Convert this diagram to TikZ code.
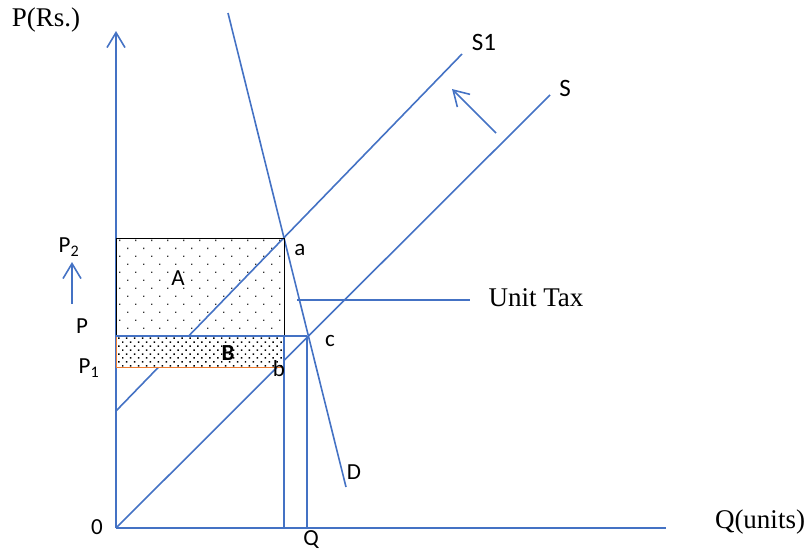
\documentclass[tikz,border=0pt]{standalone}
\usepackage{fontspec}
\setmainfont{Liberation Serif}
\newfontfamily\calib{Carlito}
\usetikzlibrary{arrows.meta,patterns.meta}
\definecolor{wblue}{HTML}{4472C4}
\definecolor{worange}{HTML}{ED7D31}
\tikzset{
  ln/.style={draw=wblue,line width=1.6},
  barb/.style={-{Straight Barb[length=15,width=18,line width=1.6]}},
  serif/.style={font=\fontsize{27}{30}\selectfont,inner sep=0},
  sans/.style={font=\calib\fontsize{23}{26}\selectfont,inner sep=0},
  sansbig/.style={font=\calib\fontsize{25}{28}\selectfont,inner sep=0}
}
\begin{document}
\begin{tikzpicture}[x=1pt,y=-1pt]
\useasboundingbox (0,0) rectangle (809,552);
% coordinates
\coordinate (O) at (116,528);
\coordinate (ytop) at (116,31);
\coordinate (xend) at (666,528);
\coordinate (Dtop) at (228,13);
\coordinate (Dbot) at (346,487);
\coordinate (S1bot) at (116,411);
\coordinate (S1top) at (462,54);
\coordinate (Stop) at (550,95);
\coordinate (a) at (284,238);
\coordinate (c) at (307,336);
\coordinate (Pl) at (116,336);
\coordinate (Ab) at (284,336);
\coordinate (P1l) at (116,367);
\coordinate (Bb) at (284,367);
\coordinate (P2l) at (116,238);
\coordinate (bq) at (284,528);
\coordinate (cq) at (307,528);
\coordinate (ut1) at (297,300);
\coordinate (ut2) at (470,300);
\coordinate (sh1) at (496,133);
\coordinate (sh2) at (452,89);
\coordinate (p2a) at (72,304);
\coordinate (p2b) at (72,262);
% area A
\path[pattern={Dots[distance=11.3pt,radius=0.9pt,angle=45]},pattern color=black!80] (P2l) rectangle (Ab);
% lines
\draw[ln] (O) -- (xend);
\draw[ln,barb] (O) -- (ytop);
\draw[ln] (Dtop) -- (Dbot);
\draw[ln] (S1bot) -- (S1top);
\draw[ln] (O) -- (Stop);
\draw[ln] (ut1) -- (ut2);
\draw[ln,barb] (sh1) -- (sh2);
\draw[ln,barb] (p2a) -- (p2b);
% area B (opaque)
\fill[white] (Pl) rectangle (Bb);
\path[pattern={Dots[distance=5.6pt,radius=1.05pt,angle=45]},pattern color=black] (Pl) rectangle (Bb);
\draw[worange,line width=0.8] (Pl) -- (P1l) -- (Bb);
% A border
\draw[black,line width=0.8] (Pl) -- (P2l) -- (a) -- (Ab);
% price/quantity lines
\draw[ln] (Pl) -- (c);
\draw[ln] (Ab) -- (bq);
\draw[ln] (c) -- (cq);
% labels
\node[serif] (ylab) at (46,20) {P(Rs.)};
\node[serif] (xlab) at (760,522) {Q(units)};
\node[serif] (utlab) at (536,298) {Unit Tax};
\node[sans] (zero) at (97,527) {0};
\node[sansbig] (s1lab) at (484,42) {S1};
\node[sansbig] (slab) at (565,88) {S};
\node[sans] (dlab) at (354,472) {D};
\node[sans] (qlab) at (311,540) {Q};
\node[sans] (alab) at (300,250) {a};
\node[sans] (blab) at (279,369) {b};
\node[sans] (clab) at (330,341) {c};
\node[sans] (Alab) at (178,278) {A};
\node[sans] (Blab) at (228,353) {\bfseries B};
\node[sans] (Plab) at (82,326) {P};
\node[sans] (P1lab) at (89,368) {P\textsubscript{1}};
\node[sans] (P2lab) at (69,247) {P\textsubscript{2}};
\end{tikzpicture}
\end{document}
